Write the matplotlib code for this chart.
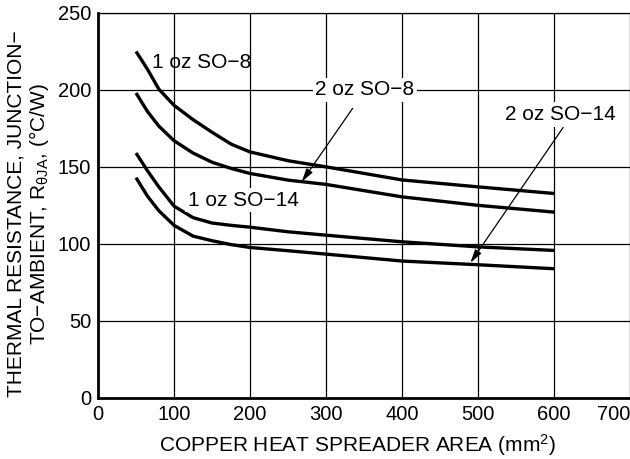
import matplotlib
matplotlib.use("Agg")
import matplotlib.pyplot as plt

plt.rcParams['font.family'] = ['Liberation Sans', 'DejaVu Sans']
plt.rcParams['mathtext.fontset'] = 'custom'
plt.rcParams['mathtext.rm'] = 'Liberation Sans'
plt.rcParams['mathtext.it'] = 'Liberation Sans'

area = [50, 65, 80, 100, 125, 150, 175, 200, 250, 300, 400, 500, 600]
oz1_so8 = [225, 213.5, 200.5, 190, 180.7, 172.5, 164.8, 159.7, 154, 150, 141.5, 137, 132.7]
oz2_so8 = [198, 186, 176.5, 167, 159, 153, 149, 145.7, 141.4, 138.6, 130.5, 125, 120.6]
oz1_so14 = [159, 147.5, 137, 124.5, 117, 113.5, 112, 110.8, 107.8, 105.6, 101.3, 98, 95.7]
oz2_so14 = [143, 131, 121.5, 112, 105, 102, 99.5, 97.6, 95.5, 93.3, 88.8, 86.4, 83.8]

xticks = [0, 100, 200, 300, 400, 500, 600, 700]
yticks = [0, 50, 100, 150, 200, 250]

fig = plt.figure(figsize=(6.3, 4.59), dpi=100)
ax = fig.add_axes([0.1556, 0.1336, 0.8444, 0.8381])

for s in (oz1_so8, oz2_so8, oz1_so14, oz2_so14):
    ax.plot(area, s, color='black', lw=2.4, solid_capstyle='butt',
            solid_joinstyle='round', zorder=3)

ax.set_xlim(0, 700)
ax.set_ylim(0, 250)
ax.set_xticks(xticks)
ax.set_yticks(yticks)
ax.grid(True, color='black', lw=0.9, zorder=0)
ax.tick_params(length=0, labelsize=14.5)
ax.tick_params(axis='x', pad=5)
ax.tick_params(axis='y', pad=5)
ax.get_xticklabels()[-1].set_horizontalalignment('right')
ax.spines['left'].set_linewidth(2)
ax.spines['bottom'].set_linewidth(2)
ax.spines['right'].set_visible(False)
ax.spines['top'].set_linewidth(0.9)

fs = 15
bbox = dict(facecolor='white', edgecolor='none', pad=2)
ax.text(71, 218, '1 oz SO\u22128', fontsize=fs, va='center', ha='left', zorder=4)
ax.text(191, 128.4, '1 oz SO\u221214', fontsize=fs, va='center', ha='center', bbox=bbox, zorder=4)
ax.text(351, 200, '2 oz SO\u22128', fontsize=fs, va='center', ha='center', bbox=bbox, zorder=4)
ax.text(608, 184, '2 oz SO\u221214', fontsize=fs, va='center', ha='center', bbox=bbox, zorder=4)

arrow = dict(arrowstyle='-|>,head_length=0.8,head_width=0.22', color='black', lw=0.9,
             shrinkA=0, shrinkB=0)
ax.annotate('', xy=(268, 140.3), xytext=(335, 188), arrowprops=arrow, zorder=5)
ax.annotate('', xy=(490, 87.7), xytext=(612, 175.6), arrowprops=arrow, zorder=5)

ax.set_xlabel('COPPER HEAT SPREADER AREA (mm$^{\\mathregular{2}}$)', fontsize=15)
ax.xaxis.set_label_coords(0.487, -0.089)
ax.set_ylabel('THERMAL RESISTANCE, JUNCTION\u2212\nTO\u2212AMBIENT, R$_{\\mathregular{\u03b8JA}}$, (\u00b0C/W)',
              fontsize=15, linespacing=1.1)
ax.yaxis.set_label_coords(-0.088, 0.4775)

fig.savefig('out.png', dpi=100)
